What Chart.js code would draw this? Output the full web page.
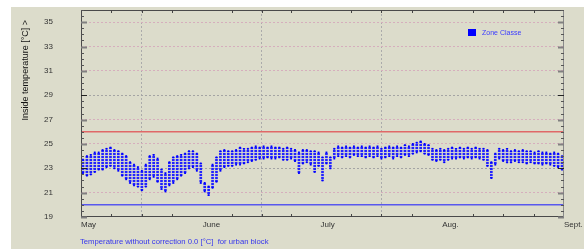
<!DOCTYPE html>
<html><head><meta charset="utf-8">
<script src="https://cdn.jsdelivr.net/npm/chart.js@4"></script>
<style>
html,body{margin:0;padding:0;background:#fff;}
#wrap{position:relative;width:584px;height:249px;overflow:hidden;}
#panel{position:absolute;left:11px;top:7px;right:0;bottom:0;background:#dcdccb;}
canvas{position:absolute;left:0;top:0;}
</style></head><body>
<div id="wrap"><div id="panel"></div><canvas id="c" width="584" height="249"></canvas></div>
<script>
// Daily maximum / minimum inside temperature, 1 May .. 31 Aug (day index 0..122)
const dayMax = [
 23.7,24.0,24.1,24.3,24.3,24.5,24.6,24.7,24.5,24.4,
 24.2,24.0,23.5,23.3,23.1,22.8,23.3,24.0,24.1,23.8,
 22.9,22.6,23.5,23.9,24.0,24.1,24.2,24.4,24.4,24.2,
 23.4,21.8,21.5,23.3,23.9,24.4,24.5,24.4,24.4,24.5,
 24.7,24.6,24.6,24.7,24.8,24.7,24.8,24.7,24.8,24.7,
 24.7,24.6,24.7,24.6,24.5,24.3,24.5,24.5,24.4,24.4,
 24.3,23.9,24.3,23.9,24.6,24.8,24.7,24.8,24.7,24.8,
 24.7,24.8,24.7,24.8,24.7,24.8,24.6,24.7,24.8,24.7,
 24.8,24.7,24.9,24.8,25.0,25.1,25.2,25.0,24.9,24.6,
 24.5,24.6,24.5,24.6,24.7,24.6,24.7,24.6,24.7,24.6,
 24.7,24.6,24.6,24.5,23.5,24.2,24.6,24.5,24.6,24.4,
 24.5,24.4,24.5,24.4,24.4,24.3,24.4,24.3,24.3,24.2,
 24.3,24.2,24.0
];
const dayMin = [
 22.6,22.4,22.5,22.7,22.9,22.9,23.1,23.2,23.0,22.8,
 22.4,22.1,21.8,21.6,21.5,21.2,21.5,22.1,22.3,21.9,
 21.3,21.1,21.6,21.8,22.1,22.4,22.6,23.0,23.1,22.8,
 21.8,21.1,20.8,21.4,21.9,22.8,23.1,23.2,23.2,23.3,
 23.3,23.4,23.5,23.6,23.7,23.8,23.8,23.9,23.8,23.8,
 23.9,23.7,23.7,23.8,23.6,22.6,23.4,23.5,23.3,22.7,
 23.2,22.0,23.4,23.0,23.8,24.0,23.9,24.0,23.9,24.1,
 24.0,24.0,23.9,24.0,23.9,24.0,23.8,23.9,24.0,23.8,
 24.0,23.9,24.1,24.0,24.2,24.3,24.4,24.2,24.1,23.7,
 23.6,23.7,23.5,23.7,23.8,23.8,23.9,23.8,23.9,23.8,
 23.9,23.8,23.7,23.2,22.2,23.3,23.8,23.6,23.5,23.5,
 23.6,23.5,23.5,23.4,23.5,23.4,23.4,23.3,23.4,23.3,
 23.2,23.1,22.9
];
const monthTicks = [0, 31, 61, 92, 123];
const monthLabels = ['May', 'June', 'July', 'Aug.', 'Sept.'];
const monthLengths = [31, 30, 31, 31];
const yTicks = [19, 21, 23, 25, 27, 29, 31, 33, 35];
const yRange = [19, 36];
const limitValues = [26, 20];
const seriesName = 'Zone Classe';
const yTitle = 'Inside temperature [°C] >';
const note = 'Temperature without correction 0.0 [°C]  for urban block';

const FONT = 'Liberation Sans';
const canvas = document.getElementById('c');
const ctx = canvas.getContext('2d');

// dotted column pattern (hourly dots appearance)
const pat = document.createElement('canvas'); pat.width = 2; pat.height = 3;
const pc = pat.getContext('2d');
pc.fillStyle = '#2222ff'; pc.fillRect(0, 0, 2, 2);
pc.fillStyle = 'rgba(140,140,235,0.3)'; pc.fillRect(0, 2, 2, 1);
const pattern = ctx.createPattern(pat, 'repeat');

const lastDay = monthTicks[monthTicks.length - 1];

const decor = {
  id: 'decor',
  afterDraw(chart) {
    const c = chart.ctx, a = chart.chartArea;
    const xs = chart.scales.x, ys = chart.scales.y;
    c.save();
    // frame
    c.lineWidth = 1;
    c.strokeStyle = '#4a4a4a';
    c.beginPath();
    c.moveTo(a.left + 0.5, a.top + 0.5); c.lineTo(a.right - 0.5, a.top + 0.5);
    c.moveTo(a.left + 0.5, a.top); c.lineTo(a.left + 0.5, a.bottom);
    c.moveTo(a.left, a.bottom - 0.5); c.lineTo(a.right, a.bottom - 0.5);
    c.stroke();
    c.strokeStyle = '#8a8a8a';
    c.beginPath(); c.moveTo(a.right - 0.5, a.top); c.lineTo(a.right - 0.5, a.bottom); c.stroke();
    // y minor ticks (every 0.5) both sides
    for (let v = yRange[0]; v <= yRange[1] + 1e-6; v += 0.5) {
      const y = Math.round(ys.getPixelForValue(v)) + 0.5;
      const major = yTicks.includes(v);
      const strong = (v === 23 || v === 29);
      c.strokeStyle = strong ? '#222' : (major ? '#808080' : '#555');
      c.lineWidth = major && !strong ? 2 : 1;
      const len = major ? 6 : 3;
      c.beginPath();
      c.moveTo(a.left, y); c.lineTo(a.left + len, y);
      c.moveTo(a.right, y); c.lineTo(a.right - len, y);
      c.stroke();
    }
    // x quarter-month ticks top & bottom
    c.strokeStyle = '#444'; c.lineWidth = 1;
    for (let m = 0; m < monthLengths.length; m++) {
      for (let k = 1; k < 4; k++) {
        const x = Math.round(xs.getPixelForValue(monthTicks[m] + monthLengths[m] * k / 4)) + 0.5;
        c.beginPath();
        c.moveTo(x, a.top); c.lineTo(x, a.top + 3);
        c.moveTo(x, a.bottom); c.lineTo(x, a.bottom - 3);
        c.stroke();
      }
    }
    // legend
    c.fillStyle = '#0000ff';
    c.fillRect(468, 29, 8, 7);
    c.font = '7px "' + FONT + '"';
    c.fillStyle = '#3a3aff';
    c.textBaseline = 'middle'; c.textAlign = 'left';
    c.fillText(seriesName, 482, 33);
    // y title
    c.save();
    c.translate(26, 20); c.rotate(-Math.PI / 2);
    c.font = '9px "' + FONT + '"';
    c.fillStyle = '#111'; c.textAlign = 'right'; c.textBaseline = 'middle';
    c.fillText(yTitle, 0, 0);
    c.restore();
    // note
    c.font = '7.7px "' + FONT + '"';
    c.fillStyle = '#3535ee'; c.textAlign = 'left'; c.textBaseline = 'middle';
    c.fillText(note, 80, 241.5);
    c.restore();
  }
};

new Chart(canvas, {
  type: 'bar',
  data: {
    datasets: [
      { type: 'line', data: [{x: 0, y: limitValues[0]}, {x: lastDay, y: limitValues[0]}],
        borderColor: '#e06868', borderWidth: 1.5, pointRadius: 0, order: 5 },
      { type: 'line', data: [{x: 0, y: limitValues[1]}, {x: lastDay, y: limitValues[1]}],
        borderColor: '#5858ee', borderWidth: 1.5, pointRadius: 0, order: 5 },
      { type: 'bar', data: dayMax.map((v, i) => ({x: i + 0.5, y: [dayMin[i], v]})),
        backgroundColor: pattern, barThickness: 2, borderWidth: 0, order: 2 },
      { type: 'line', showLine: false, data: dayMax.map((v, i) => ({x: i + 0.5, y: v})),
        pointStyle: 'rect', pointRadius: 1.3, backgroundColor: '#0000ff', borderWidth: 0, order: 1 },
      { type: 'line', showLine: false, data: dayMin.map((v, i) => ({x: i + 0.5, y: v})),
        pointStyle: 'rect', pointRadius: 1.3, backgroundColor: '#0000ff', borderWidth: 0, order: 1 }
    ]
  },
  options: {
    responsive: false, animation: false, devicePixelRatio: 1,
    layout: { padding: { left: 10, right: 20, top: 10, bottom: 0 } },
    plugins: { legend: { display: false }, tooltip: { enabled: false } },
    scales: {
      x: {
        type: 'linear', min: 0, max: lastDay, offset: false,
        afterBuildTicks: s => { s.ticks = monthTicks.map(v => ({value: v})); },
        afterFit: s => { s.height = 32; s.paddingLeft = 0; s.paddingRight = 0; s.paddingTop = 0; s.paddingBottom = 0; },
        ticks: { align: 'start', padding: 3, autoSkip: false, maxRotation: 0,
          font: { family: FONT, size: 8 }, color: '#333',
          callback: (v, i) => monthLabels[i] },
        grid: { drawTicks: false, lineWidth: 1,
          color: c => (c.tick && (c.tick.value === 0 || c.tick.value === lastDay)) ? 'rgba(0,0,0,0)' : '#ababab' },
        border: { display: false, dash: [2, 2] }
      },
      y: {
        min: yRange[0], max: yRange[1],
        afterBuildTicks: s => { s.ticks = yTicks.map(v => ({value: v})); },
        afterFit: s => { s.width = 71; s.paddingTop = 0; s.paddingBottom = 0; s.paddingLeft = 0; s.paddingRight = 0; },
        ticks: { padding: 28, font: { family: FONT, size: 8 }, color: '#333' },
        grid: { drawTicks: false, lineWidth: 1,
          color: c => {
            const v = c.tick ? c.tick.value : 0;
            if (v === yRange[0]) return 'rgba(0,0,0,0)';
            if (v === 23 || v === 29) return '#a4a4a4';
            return '#d6aebd';
          } },
        border: { display: false, dash: [2, 2] }
      }
    }
  },
  plugins: [decor]
});
</script>
</body></html>
